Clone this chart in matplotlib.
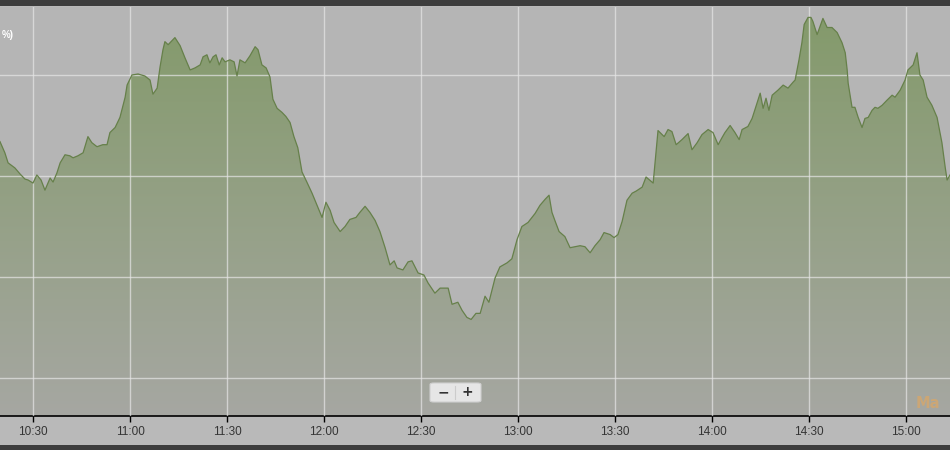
"""Intraday percent change area chart, redrawn from a screenshot."""

import numpy as np
import matplotlib

matplotlib.use("Agg")
import matplotlib.pyplot as plt
from matplotlib.colors import to_rgb
from matplotlib.patches import FancyBboxPatch, Rectangle
from matplotlib.ticker import FuncFormatter, MultipleLocator

# minutes after 10:00
minutes = [
    19.8, 21.3, 22.3, 24.4, 26.0, 27.5, 28.5, 30.0, 31.2, 32.5, 33.7, 35.3, 36.2,
    37.4, 38.4, 39.9, 41.4, 42.4, 43.9, 45.5, 47.0, 48.2, 49.8, 51.6, 52.9, 53.8,
    55.4, 56.9, 58.5, 59.1, 60.6, 62.5, 64.6, 66.2, 67.1, 68.4, 69.3, 70.2, 70.8,
    71.8, 73.0, 73.9, 75.5, 77.0, 78.6, 80.1, 81.7, 82.6, 83.8, 84.7, 85.7, 86.6,
    87.6, 88.5, 89.4, 90.9, 92.2, 93.1, 94.0, 95.6, 97.1, 98.7, 99.6, 100.8, 102.1,
    103.3, 104.2, 105.5, 107.0, 108.2, 109.5, 110.7, 111.9, 113.2, 114.7, 116.3,
    118.1, 119.4, 120.6, 121.9, 123.1, 125.0, 126.5, 128.0, 129.9, 131.1, 132.7,
    134.2, 135.8, 137.3, 138.9, 140.4, 141.7, 142.6, 144.4, 146.0, 147.2, 149.1,
    150.9, 152.2, 154.3, 155.9, 157.4, 158.4, 159.6, 161.4, 162.7, 164.2, 165.5,
    167.0, 168.3, 169.8, 171.0, 172.9, 174.4, 176.6, 178.1, 179.7, 181.2, 183.1,
    185.3, 186.8, 188.4, 189.6, 190.5, 191.4, 192.7, 194.5, 196.1, 197.6, 199.2,
    200.7, 202.3, 203.8, 205.4, 206.6, 208.5, 209.7, 210.9, 212.2, 213.7, 215.3,
    216.5, 218.4, 219.6, 221.8, 223.3, 225.2, 226.4, 227.6, 228.9, 230.7, 232.6,
    233.8, 235.4, 236.9, 238.8, 240.3, 241.9, 243.1, 244.0, 245.6, 247.1, 248.4,
    249.3, 251.1, 252.4, 253.9, 254.9, 255.8, 256.7, 257.6, 258.6, 260.4, 262.0,
    263.5, 265.1, 265.7, 266.9, 267.8, 268.5, 269.7, 270.6, 271.2, 272.5, 273.4,
    274.3, 275.6, 277.1, 278.7, 280.2, 281.2, 281.8, 282.1, 283.3, 284.2, 285.2,
    286.4, 287.3, 288.3, 289.5, 290.4, 291.3, 292.6, 294.1, 295.7, 296.6, 298.2,
    299.7, 300.6, 302.2, 303.4, 304.3, 305.3, 306.5, 308.0, 309.6, 311.1, 312.1,
    312.7, 313.6,
]

# percent change
change = [
    1.34, 1.23, 1.13, 1.08, 1.02, 0.97, 0.96, 0.93, 1.01, 0.96, 0.86, 0.98, 0.94,
    1.03, 1.13, 1.21, 1.20, 1.18, 1.20, 1.23, 1.39, 1.33, 1.29, 1.31, 1.31, 1.43,
    1.48, 1.58, 1.78, 1.90, 2.00, 2.01, 1.99, 1.95, 1.81, 1.87, 2.08, 2.25, 2.33,
    2.30, 2.34, 2.37, 2.29, 2.17, 2.05, 2.07, 2.10, 2.18, 2.20, 2.12, 2.18, 2.20,
    2.10, 2.17, 2.13, 2.15, 2.13, 1.99, 2.15, 2.12, 2.19, 2.28, 2.25, 2.10, 2.07,
    1.98, 1.76, 1.67, 1.63, 1.59, 1.53, 1.39, 1.28, 1.04, 0.94, 0.83,
    0.69, 0.59, 0.74, 0.66, 0.54, 0.45, 0.50, 0.57, 0.59, 0.64, 0.70,
    0.64, 0.56, 0.45, 0.29, 0.12, 0.16, 0.09, 0.07, 0.15, 0.16, 0.04,
    0.02, -0.06, -0.16, -0.11, -0.11, -0.11, -0.27, -0.25, -0.33, -0.40, -0.42,
    -0.36, -0.36, -0.19, -0.25, -0.01, 0.10, 0.14, 0.18, 0.37, 0.50, 0.54,
    0.63, 0.71, 0.77, 0.81, 0.64, 0.56, 0.45, 0.40, 0.29, 0.30, 0.31,
    0.30, 0.24, 0.31, 0.37, 0.44, 0.42, 0.39, 0.42, 0.55, 0.76, 0.83,
    0.85, 0.89, 0.99, 0.93, 1.45, 1.39, 1.46, 1.44, 1.31, 1.36, 1.42,
    1.26, 1.33, 1.41, 1.46, 1.43, 1.31, 1.38, 1.43, 1.50, 1.43, 1.36,
    1.46, 1.49, 1.57, 1.72, 1.82, 1.67, 1.77, 1.65, 1.80, 1.85, 1.90,
    1.87, 1.93, 1.95, 2.15, 2.32, 2.50, 2.57, 2.57, 2.53, 2.40, 2.48,
    2.56, 2.47, 2.47, 2.42, 2.32, 2.22, 2.05, 1.92, 1.68, 1.68, 1.58,
    1.48, 1.57, 1.58, 1.65, 1.68, 1.67, 1.70, 1.75, 1.80, 1.78, 1.85,
    1.95, 2.05, 2.10, 2.22, 2.00, 1.95, 1.78, 1.70, 1.58, 1.33, 1.09,
    0.96, 1.01,
]

grid_levels = [-1, 0, 1, 2]
x_range = (19.8, 313.6)
y_range = (-1.376, 2.673)


def clock(m, _pos=None):
    m = int(round(m))
    return f"{10 + m // 60}:{m % 60:02d}"


fig = plt.figure(figsize=(9.5, 4.5), dpi=100)
fig.patch.set_facecolor("#b9b9b9")

# dark bars top and bottom
fig.patches.append(Rectangle((0, 444 / 450), 1, 6 / 450, transform=fig.transFigure,
                             facecolor="#3d3d3d", edgecolor="none"))
fig.patches.append(Rectangle((0, 0), 1, 5 / 450, transform=fig.transFigure,
                             facecolor="#3d3d3d", edgecolor="none"))

ax = fig.add_axes([0, 34 / 450, 1, 409 / 450])
ax.set_facecolor("#b5b5b5")

# gradient area under the line
poly = ax.fill_between(minutes, change, y_range[0], facecolor="none", edgecolor="none")
top_c = np.array(to_rgb("#839a6a"))
bot_c = np.array(to_rgb("#a6a7a2"))
t = np.linspace(0, 1, 256)[:, None, None]
grad = bot_c + (top_c - bot_c) * t
im = ax.imshow(grad, extent=[*x_range, *y_range], origin="lower", aspect="auto",
               zorder=1, interpolation="bilinear")
im.set_clip_path(poly.get_paths()[0], ax.transData)

ax.plot(minutes, change, color="#66804a", linewidth=0.9, zorder=3)

ax.set_xlim(*x_range)
ax.set_ylim(*y_range)

ax.set_yticks(grid_levels)
ax.xaxis.set_major_locator(MultipleLocator(30))
ax.xaxis.set_major_formatter(FuncFormatter(clock))
ax.grid(True, color="#e6e6e6", alpha=0.7, linewidth=1.0)
ax.set_axisbelow(False)

ax.tick_params(axis="y", left=False, labelleft=False)
ax.tick_params(axis="x", direction="out", length=4, width=1, color="black",
               labelsize=8.5, labelcolor="#353535", pad=3)
for lbl in ax.get_xticklabels():
    lbl.set_family("Liberation Sans")

for side in ["left", "right", "top"]:
    ax.spines[side].set_visible(False)
ax.spines["bottom"].set_color("black")
ax.spines["bottom"].set_linewidth(1.2)

# what shows of the axis title at the left edge
ax.text(0.002, 0.932, "%)", transform=ax.transAxes, ha="left", va="center",
        color="white", fontsize=7, fontweight="bold", family="Liberation Sans")

# zoom control
ax.add_patch(FancyBboxPatch((430 / 950, 14 / 409), 51 / 950, 19 / 409,
                            boxstyle="round,pad=0,rounding_size=0.004",
                            transform=ax.transAxes, facecolor="#e6e6e6",
                            edgecolor="#cfcfcf", linewidth=0.8, zorder=5))
ax.plot([455 / 950, 455 / 950], [17 / 409, 30 / 409], transform=ax.transAxes,
        color="#cccccc", linewidth=0.8, zorder=6)
ax.text(443 / 950, 23.5 / 409, "\u2212", transform=ax.transAxes, ha="center",
        va="center", fontsize=10, color="#333333", zorder=6, fontweight="bold")
ax.text(467 / 950, 23.5 / 409, "+", transform=ax.transAxes, ha="center",
        va="center", fontsize=10, color="#333333", zorder=6, fontweight="bold")

# watermark at the right edge
ax.text(916 / 950, 12 / 409, "Ma", transform=ax.transAxes, ha="left",
        va="center", fontsize=10.5, fontweight="bold", color="#e6a65a", alpha=0.6,
        zorder=6)

fig.savefig("out.png", dpi=100, facecolor=fig.get_facecolor())
